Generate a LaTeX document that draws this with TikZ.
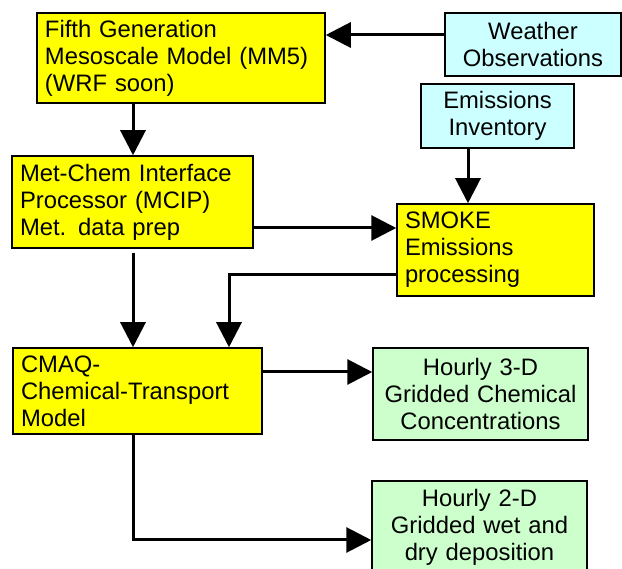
\documentclass[tikz,border=0pt]{standalone}
\usepackage{fontspec}
\setmainfont{Liberation Sans}
\usetikzlibrary{arrows.meta}
\definecolor{boxyellow}{HTML}{FFFF00}
\definecolor{boxcyan}{HTML}{CCFFFF}
\definecolor{boxgreen}{HTML}{CCFFCC}
\begin{document}
\begin{tikzpicture}[x=1pt,y=-1pt,
  font=\fontsize{23.8}{27}\selectfont,
  basebox/.style={draw=black, line width=1.5pt, rectangle, inner xsep=8pt, inner ysep=0pt},
  ybox/.style={basebox, fill=boxyellow, align=left},
  cbox/.style={basebox, fill=boxcyan, align=center},
  gbox/.style={basebox, fill=boxgreen, align=center},
  arr/.style={line width=3pt, -{Triangle[width=25pt,length=25pt]}}]
\useasboundingbox (0,0) rectangle (622,569);

\node[ybox, minimum width=288pt, minimum height=90pt, text width=272pt] (mm5) at (181,58)
  {Fifth Generation\\Mesoscale Model (MM5)\\(WRF soon)};
\node[cbox, minimum width=176pt, minimum height=63pt, text width=160pt] (wx) at (533,44.5)
  {Weather\\Observations};
\node[cbox, minimum width=153pt, minimum height=64pt, text width=137pt] (emis) at (497.5,116)
  {Emissions\\Inventory};
\node[ybox, minimum width=197pt, minimum height=92pt, text width=181pt] (smoke) at (495.5,250)
  {SMOKE\\Emissions\\processing};
\node[ybox, minimum width=241pt, minimum height=92pt, text width=225pt] (mcip) at (132.5,202)
  {Met-Chem Interface\\Processor (MCIP)\\Met. data prep};
\node[ybox, minimum width=249pt, minimum height=86pt, text width=233pt] (cmaq) at (137.5,391)
  {CMAQ-\\Chemical-Transport\\Model};
\node[gbox, minimum width=215pt, minimum height=92pt, text width=199pt] (c3d) at (480.5,394)
  {Hourly 3-D\\Gridded Chemical\\Concentrations};
\node[gbox, minimum width=215pt, minimum height=92pt, text width=199pt] (c2d) at (479.5,527)
  {Hourly 2-D\\Gridded wet and\\dry deposition};

\draw[arr] (wx.west |- 0,35) -- (mm5.east |- 0,35);
\draw[arr] (mm5.south -| 133,0) -- (mcip.north -| 133,0);
\draw[arr] (mcip.east |- 0,228) -- (smoke.west |- 0,228);
\draw[arr] (emis.south -| 468,0) -- (smoke.north -| 468,0);
\draw[arr, shorten <=4pt] (mcip.south -| 133,0) -- (cmaq.north -| 133,0);
\draw[arr] (smoke.west |- 0,275) -| (cmaq.north -| 229,0);
\draw[arr] (cmaq.east |- 0,372) -- (c3d.west |- 0,372);
\draw[arr] (cmaq.south -| 133,0) |- (c2d.west |- 0,540);
\end{tikzpicture}
\end{document}
